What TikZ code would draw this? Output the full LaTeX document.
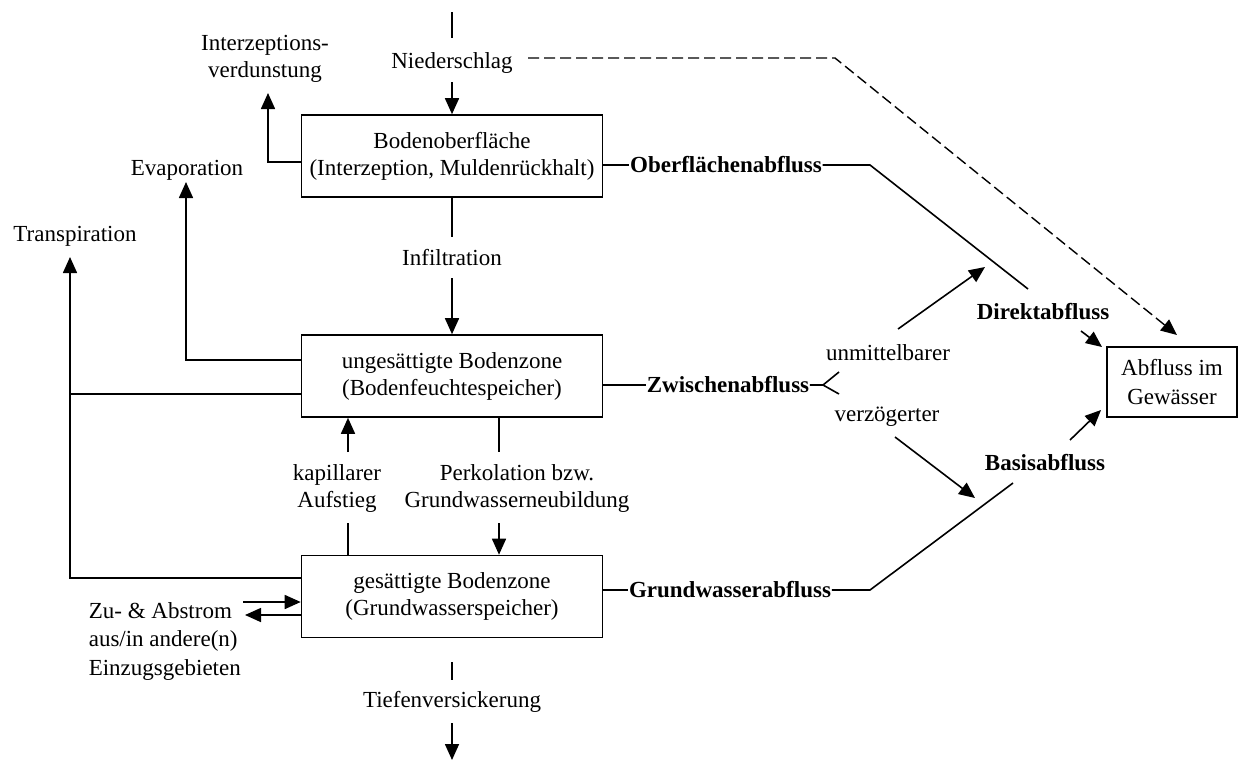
\documentclass[tikz,border=0pt]{standalone}
\usepackage{fontspec}
\setmainfont{Liberation Serif}
\usetikzlibrary{arrows.meta}
\newcommand{\dfont}{\fontsize{23}{27}\selectfont}
\begin{document}
\begin{tikzpicture}[x=1pt,y=-1pt, line width=1.6pt,
  box/.style={draw, minimum width=301pt, minimum height=82pt, align=center, inner sep=0pt, font=\dfont},
  lbl/.style={align=center, inner sep=0pt, font=\dfont},
  blbl/.style={inner sep=0pt, font=\dfont\bfseries},
  arr/.style={-{Triangle[length=16pt,width=14pt]}},
  dash line/.style={dash pattern=on 11pt off 5pt, line width=1.4pt}]
\useasboundingbox (0,0) rectangle (1238,761);

% boxes
\node[box] (b1) at (452,156) {Bodenoberfläche\\(Interzeption, Muldenrückhalt)};
\node[box] (b2) at (452,376) {ungesättigte Bodenzone\\(Bodenfeuchtespeicher)};
\node[box] (b3) at (452,596.5) {gesättigte Bodenzone\\(Grundwasserspeicher)};
\node[box, minimum width=130pt, minimum height=70pt, font=\fontsize{23}{29}\selectfont] (b4) at (1172,382) {Abfluss im\\Gewässer};

% labels
\node[lbl] (nied) at (452,63) {Niederschlag};
\node[lbl] (izv) at (265,59) {Interzeptions-\\verdunstung};
\node[lbl] (infl) at (452,258) {Infiltration};
\node[lbl] (evap) at (187,170) {Evaporation};
\node[lbl] (trans) at (75,236) {Transpiration};
\node[lbl] (kap) at (337,488) {kapillarer\\Aufstieg};
\node[lbl] (perk) at (517,488) {Perkolation bzw.\\Grundwasserneubildung};
\node[lbl, align=left, anchor=west, font=\fontsize{23}{28.5}\selectfont] (zu) at (88,641) {Zu- \& Abstrom\\aus/in andere(n)\\Einzugsgebieten};
\node[lbl] (tief) at (452,702) {Tiefenversickerung};
\node[blbl] (ofl) at (726,165) {Oberflächenabfluss};
\node[blbl] (zw) at (728,385) {Zwischenabfluss};
\node[blbl] (gw) at (730,590) {Grundwasserabfluss};
\node[blbl] (dir) at (1043,312) {Direktabfluss};
\node[blbl] (bas) at (1045,463) {Basisabfluss};
\node[lbl] (unm) at (888,353) {unmittelbarer};
\node[lbl] (verz) at (887,417) {verzögerter};

% coordinates
\coordinate (top0) at (452,12);
\coordinate (top1) at (452,38);
\coordinate (nd) at (452,82);
\coordinate (iz1) at (268,162);
\coordinate (iz2) at (268,93);
\coordinate (inf0) at (452,237);
\coordinate (inf1) at (452,278);
\coordinate (ev1) at (186,360);
\coordinate (ev2) at (186,182);
\coordinate (tr1) at (70,394);
\coordinate (tr2) at (70,578);
\coordinate (tr3) at (70,257);
\coordinate (kp0) at (348,452);
\coordinate (kp1) at (348,523);
\coordinate (pk0) at (499,452);
\coordinate (pk1) at (499,523);
\coordinate (zr0) at (243,602);
\coordinate (zl1) at (245,615);
\coordinate (tf0) at (452,662);
\coordinate (tf1) at (452,680);
\coordinate (tf2) at (452,723);
\coordinate (tf3) at (452,760);
\coordinate (of1) at (870,163);
\coordinate (of2) at (1028,289);
\coordinate (ds0) at (528,58);
\coordinate (ds1) at (835,58);
\coordinate (ds2) at (1177,335);
\coordinate (dr0) at (1081,331);
\coordinate (dr1) at (1102,347);
\coordinate (fk0) at (823,383);
\coordinate (fk1) at (839,372);
\coordinate (fk2) at (839,394);
\coordinate (um0) at (898,329);
\coordinate (um1) at (985,267);
\coordinate (vz0) at (895,437);
\coordinate (vz1) at (975,498);
\coordinate (bs0) at (1070,440);
\coordinate (bs1) at (1101,410);
\coordinate (gw1) at (870,591);
\coordinate (gw2) at (1013,483);

% connectors
\draw (top0) -- (top1);
\draw[arr] (nd) -- (b1.north);
\draw[arr] (b1.west |- iz1) -- (iz1) -- (iz2);
\draw (b1.south) -- (inf0);
\draw[arr] (inf1) -- (b2.north);
\draw[arr] (b2.west |- ev1) -- (ev1) -- (ev2);
\draw (b2.west |- tr1) -- (tr1);
\draw[arr] (b3.west |- tr2) -- (tr2) -- (tr3);
\draw[arr] (kp0) -- (b2.south -| kp0);
\draw (b3.north -| kp1) -- (kp1);
\draw (b2.south -| pk0) -- (pk0);
\draw[arr] (pk1) -- (b3.north -| pk1);
\draw[arr] (zr0) -- (b3.west |- zr0);
\draw[arr] (b3.west |- zl1) -- (zl1);
\draw (tf0) -- (tf1);
\draw[arr] (tf2) -- (tf3);
\draw (b1.east |- ofl.west) -- (ofl.west);
\draw (ofl.east) -- (ofl.east -| of1) -- (of2);
\draw[dash line, arr] (ds0) -- (ds1) -- (ds2);
\draw[arr] (dr0) -- (dr1);
\draw (b2.east |- zw.west) -- (zw.west);
\draw (zw.east) -- (fk0 |- zw.east) -- (fk1);
\draw (fk0 |- zw.east) -- (fk2);
\draw[arr] (um0) -- (um1);
\draw[arr] (vz0) -- (vz1);
\draw[arr] (bs0) -- (bs1);
\draw (b3.east |- gw.west) -- (gw.west);
\draw (gw.east) -- (gw.east -| gw1) -- (gw2);
\end{tikzpicture}
\end{document}
